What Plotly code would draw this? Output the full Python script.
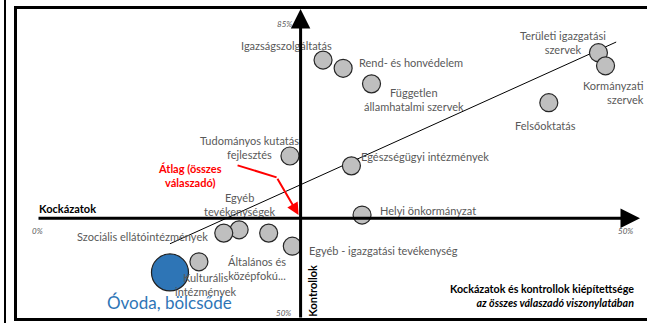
import plotly.graph_objects as go

# data (x: kockázatok %, y: kontrollok %)
names = ['Igazságszolgáltatás', 'Rend- és honvédelem', 'Független<br>államhatalmi szervek',
         'Területi igazgatási<br>szervek', 'Kormányzati<br>szervek', 'Felsőoktatás',
         'Tudományos kutatás<br>fejlesztés', 'Egészségügyi intézmények', 'Helyi önkormányzat',
         'Egyéb<br>tevékenységek', 'Szociális ellátóintézmények', 'Általános és<br>középfokú...',
         'Egyéb - igazgatási tevékenység', 'Kulturális<br>intézmények']
risk = [24.2, 25.9, 28.3, 47.5, 48.1, 43.3, 21.4, 26.6, 27.5, 17.1, 15.8, 19.6, 21.6, 13.7]
control = [80.6, 79.6, 77.7, 81.5, 79.9, 75.4, 68.9, 67.7, 61.7, 59.9, 59.5, 59.5, 57.9, 56.0]

hl_name = 'Óvoda, bölcsőde'
hl_risk = [11.25]
hl_control = [54.7]

avg_risk = 22.3
avg_control = 61.3

trend_x = [11.25, 49.0]
trend_y = [58.2, 82.8]

x_ticks = ['0%', '50%']
y_ticks = ['85%', '50%']

# label placement: (xanchor, dx px, dy px) relative to the circle
label_pos = [('center', -37, -15), ('left', 14, -6), ('center', 42, 16),
             ('center', -35, -10), ('right', 40, 27), ('center', -3, 23),
             ('center', -40, -9), ('left', 8, -9), ('left', 16, -5),
             ('center', 1, -25), ('right', -14, 3), ('center', -12, 35),
             ('left', 15, 4), ('center', 7, 23)]

W, H = 647, 323
FONT = 'Lato'
GREY = '#595959'
RED = '#ff0000'

# map: 0% -> px 37, 50% -> px 628 ; 85% -> py 24, 50% -> py 311
kx = (628 - 37) / 50.0
ky = (311 - 24) / 35.0
x_range = [-37 / kx, (W - 37) / kx]
y_range = [85 - (H - 24) / ky, 85 + 24 / ky]

fig = go.Figure()

fig.add_trace(go.Scatter(x=trend_x, y=trend_y, mode='lines',
                         line=dict(color='black', width=1), hoverinfo='skip'))
fig.add_trace(go.Scatter(x=risk, y=control, mode='markers', text=names,
                         marker=dict(size=18, color='#bfbfbf',
                                     line=dict(color='#262626', width=1.2))))
fig.add_trace(go.Scatter(x=hl_risk, y=hl_control, mode='markers', text=[hl_name],
                         marker=dict(size=37, color='#2e75b6',
                                     line=dict(color='#1f1f1f', width=1.2))))

annotations = []
for n, (xa, dx, dy) in enumerate(label_pos):
    annotations.append(dict(x=risk[n], y=control[n], text=names[n], showarrow=False,
                            xanchor=xa, yanchor='middle', xshift=dx, yshift=-dy,
                            align=xa,
                            font=dict(family=FONT, size=11, color=GREY)))
annotations.append(dict(x=hl_risk[0], y=hl_control[0], text=hl_name, showarrow=False,
                        xanchor='center', yanchor='middle', yshift=-30,
                        font=dict(family=FONT, size=17, color='#2e75b6')))

# axes with arrows
x_start = 0
x_tip = (640 - 37) / kx
y_start = 85 - (319 - 24) / ky
y_tip = 85 + (24 - 9) / ky
annotations.append(dict(x=x_tip, y=avg_control, ax=x_start, ay=avg_control,
                        xref='x', yref='y', axref='x', ayref='y', text='',
                        showarrow=True, arrowhead=2, arrowsize=1.3, arrowwidth=3,
                        arrowcolor='black'))
annotations.append(dict(x=avg_risk, y=y_tip, ax=avg_risk, ay=y_start,
                        xref='x', yref='y', axref='x', ayref='y', text='',
                        showarrow=True, arrowhead=2, arrowsize=1.3, arrowwidth=3,
                        arrowcolor='black'))

tick_font = dict(family=FONT, size=8, color=GREY)
annotations += [
    dict(x=0, y=avg_control, text='<i>' + x_ticks[0] + '</i>', showarrow=False, yshift=-13,
         xanchor='center', font=tick_font),
    dict(x=50, y=avg_control, text='<i>' + x_ticks[1] + '</i>', showarrow=False, yshift=-13,
         xshift=-3, xanchor='center', font=tick_font),
    dict(x=avg_risk, y=85, text='<i>' + y_ticks[0] + '</i>', showarrow=False, xshift=-7,
         xanchor='right', font=tick_font),
    dict(x=avg_risk, y=50, text='<i>' + y_ticks[1] + '</i>', showarrow=False, xshift=-8,
         yshift=-2, xanchor='right', font=tick_font),
    dict(x=0, y=avg_control, text='<b>Kockázatok</b>', showarrow=False, xanchor='left',
         yanchor='bottom', yshift=1, font=dict(family=FONT, size=11, color='black')),
    dict(x=avg_risk, y=50.3, text='<b>Kontrollok</b>', showarrow=False, textangle=-90,
         xanchor='left', yanchor='middle', xshift=3, yshift=18,
         font=dict(family=FONT, size=11, color='black')),
]

# average pointer in red
annotations.append(dict(x=avg_risk, y=avg_control, text='', showarrow=True,
                        ax=-24, ay=-41, axref='pixel', ayref='pixel',
                        arrowhead=2, arrowsize=1.2, arrowwidth=2, arrowcolor=RED,
                        standoff=4))
annotations.append(dict(x=avg_risk, y=avg_control, text='<b>Átlag (összes<br>válaszadó)</b>',
                        showarrow=False, xshift=-111, yshift=43,
                        font=dict(family=FONT, size=11, color=RED)))

# title in the corner
annotations.append(dict(x=636 / W, y=1 - 295 / H, xref='paper', yref='paper',
                        text='<b>Kockázatok és kontrollok kiépítettsége</b><br>'
                             '<b><i>az összes válaszadó viszonylatában</i></b>',
                        showarrow=False, xanchor='right', yanchor='middle', align='right',
                        font=dict(family=FONT, size=10.7, color='black')))

shapes = [
    dict(type='rect', xref='paper', yref='paper', x0=15.5 / W, x1=660 / W,
         y0=1 - 319.5 / H, y1=1 - 7.5 / H, line=dict(color='black', width=3)),
    dict(type='line', xref='paper', yref='paper', x0=5 / W, x1=5 / W, y0=-0.05, y1=1.05,
         line=dict(color='black', width=2)),
    # red pointer, first leg
    dict(type='line', xref='x', yref='y', x0=avg_risk - 63 / kx, y0=avg_control + 53 / ky,
         x1=avg_risk - 24 / kx, y1=avg_control + 41 / ky,
         line=dict(color=RED, width=2)),
]

fig.update_layout(
    width=W, height=H,
    margin=dict(l=0, r=0, t=0, b=0),
    paper_bgcolor='white', plot_bgcolor='white',
    showlegend=False,
    xaxis=dict(range=x_range, visible=False, fixedrange=True),
    yaxis=dict(range=y_range, visible=False, fixedrange=True),
    annotations=annotations,
    shapes=shapes,
)

fig.write_html("out.html", config={'displayModeBar': False},
               post_script="document.body.style.margin='0';")
